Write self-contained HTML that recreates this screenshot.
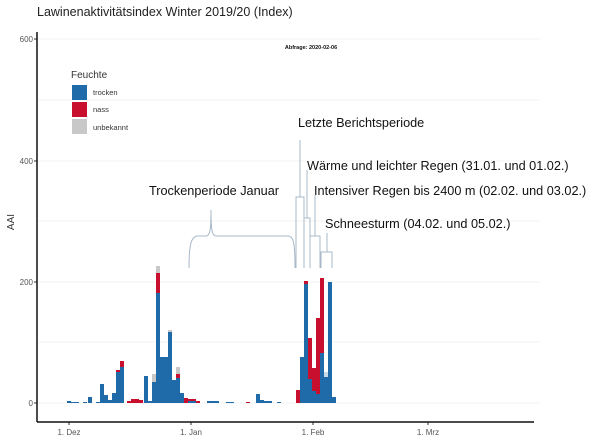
<!DOCTYPE html>
<html><head><meta charset="utf-8"><style>
html,body{margin:0;padding:0;background:#fff;}
svg{display:block;}
.t{font-family:"Liberation Sans",sans-serif;}
.c{font-family:"Liberation Sans",sans-serif;font-size:12.7px;fill:#111;}
</style></head><body>
<svg width="616" height="438" viewBox="0 0 616 438" xmlns="http://www.w3.org/2000/svg">
<rect width="616" height="438" fill="#fff"/>
<text x="37" y="16" class="t" font-size="12.5" fill="#222">Lawinenaktivitätsindex Winter 2019/20 (Index)</text>
<g stroke="#f3f3f3" stroke-width="1">
<line x1="38" x2="540" y1="39" y2="39"/><line x1="38" x2="540" y1="100" y2="100"/>
<line x1="38" x2="540" y1="161" y2="161"/><line x1="38" x2="540" y1="221" y2="221"/>
<line x1="38" x2="540" y1="282" y2="282"/><line x1="38" x2="540" y1="342" y2="342"/>
<line x1="38" x2="540" y1="403" y2="403"/>
</g>
<g class="t" font-size="8" fill="#555" text-anchor="end">
<text x="33" y="42">600</text><text x="33" y="164">400</text><text x="33" y="285">200</text><text x="33" y="406">0</text>
</g>
<g stroke="#333"><line x1="34" x2="37" y1="39" y2="39"/><line x1="34" x2="37" y1="161" y2="161"/><line x1="34" x2="37" y1="282" y2="282"/><line x1="34" x2="37" y1="403" y2="403"/>
<line x1="69" x2="69" y1="422" y2="425"/><line x1="191" x2="191" y1="422" y2="425"/><line x1="313" x2="313" y1="422" y2="425"/><line x1="428" x2="428" y1="422" y2="425"/></g>
<line x1="37" y1="32" x2="37" y2="422" stroke="#111" stroke-width="1.5"/>
<line x1="37" y1="422" x2="534" y2="422" stroke="#111" stroke-width="1.5"/>
<g class="t" font-size="8" fill="#555" text-anchor="middle">
<text x="69" y="435">1. Dez</text><text x="191" y="435">1. Jan</text><text x="313" y="435">1. Feb</text><text x="428" y="435">1. Mrz</text>
</g>
<text class="t" font-size="10" fill="#333" transform="translate(14,222) rotate(-90)" text-anchor="middle">AAI</text>
<text x="311" y="49" class="t" font-size="5.5" font-weight="bold" text-anchor="middle" fill="#111">Abfrage: 2020-02-06</text>
<text x="71" y="78" class="t" font-size="10" fill="#333">Feuchte</text>
<rect x="72" y="85" width="15" height="15" fill="#1f6aa8"/><rect x="72" y="102" width="15" height="15" fill="#c8102e"/><rect x="72" y="119" width="15" height="15" fill="#c8c8c8"/>
<g class="t" font-size="7.5" fill="#333"><text x="93" y="95">trocken</text><text x="93" y="112">nass</text><text x="93" y="130">unbekannt</text></g>
<g id="bars">
<rect x="67" y="401" width="4" height="2" fill="#1f6aa8"/>
<rect x="71" y="402" width="8" height="1" fill="#1f6aa8"/>
<rect x="83" y="402" width="4" height="1" fill="#1f6aa8"/>
<rect x="88" y="397" width="4" height="6" fill="#1f6aa8"/>
<rect x="96" y="402" width="4" height="1" fill="#1f6aa8"/>
<rect x="100" y="384" width="4" height="19" fill="#1f6aa8"/>
<rect x="104" y="395" width="4" height="8" fill="#1f6aa8"/>
<rect x="108" y="400" width="4" height="3" fill="#1f6aa8"/>
<rect x="112" y="393" width="4" height="10" fill="#1f6aa8"/>
<rect x="116" y="370" width="4" height="33" fill="#1f6aa8"/><rect x="116" y="370" width="4" height="2" fill="#c8102e"/>
<rect x="120" y="361" width="4" height="42" fill="#1f6aa8"/><rect x="120" y="361" width="4" height="6" fill="#c8102e"/>
<rect x="127" y="401" width="4" height="2" fill="#c8102e"/>
<rect x="131" y="399" width="8" height="4" fill="#c8102e"/>
<rect x="139" y="400" width="4" height="3" fill="#c8102e"/>
<rect x="144" y="376" width="4" height="27" fill="#1f6aa8"/>
<rect x="148" y="401" width="4" height="2" fill="#1f6aa8"/>
<rect x="152" y="382" width="4" height="21" fill="#1f6aa8"/><rect x="152" y="374" width="4" height="8" fill="#c8c8c8"/>
<rect x="156" y="293" width="4" height="110" fill="#1f6aa8"/><rect x="156" y="273" width="4" height="20" fill="#c8102e"/><rect x="156" y="266" width="4" height="7" fill="#c8c8c8"/>
<rect x="160" y="357" width="8" height="46" fill="#1f6aa8"/>
<rect x="168" y="332" width="4" height="71" fill="#1f6aa8"/><rect x="168" y="330" width="4" height="2" fill="#c8c8c8"/>
<rect x="172" y="380" width="4" height="23" fill="#1f6aa8"/>
<rect x="176" y="378" width="4" height="25" fill="#1f6aa8"/><rect x="176" y="374" width="4" height="4" fill="#c8102e"/><rect x="176" y="367" width="4" height="7" fill="#c8c8c8"/>
<rect x="180" y="393" width="4" height="10" fill="#1f6aa8"/>
<rect x="184" y="398" width="4" height="5" fill="#c8102e"/>
<rect x="188" y="399" width="8" height="4" fill="#1f6aa8"/><rect x="188" y="399" width="8" height="2" fill="#c8102e"/>
<rect x="196" y="401" width="4" height="2" fill="#c8102e"/>
<rect x="207" y="401" width="12" height="2" fill="#1f6aa8"/>
<rect x="226" y="402" width="8" height="1" fill="#1f6aa8"/>
<rect x="246" y="402" width="4" height="1" fill="#c8102e"/>
<rect x="256" y="394" width="4" height="9" fill="#1f6aa8"/>
<rect x="260" y="400" width="4" height="3" fill="#1f6aa8"/>
<rect x="264" y="401" width="8" height="2" fill="#1f6aa8"/>
<rect x="277" y="402" width="4" height="1" fill="#1f6aa8"/>
<rect x="296" y="390" width="4" height="13" fill="#c8102e"/>
<rect x="300" y="357" width="4" height="46" fill="#1f6aa8"/>
<rect x="304" y="283" width="4" height="120" fill="#1f6aa8"/><rect x="304" y="281" width="4" height="3" fill="#c8102e"/>
<rect x="308" y="338" width="4" height="41" fill="#c8102e"/><rect x="308" y="379" width="4" height="24" fill="#1f6aa8"/>
<rect x="312" y="368" width="4" height="23" fill="#c8102e"/><rect x="312" y="391" width="4" height="12" fill="#1f6aa8"/>
<rect x="316" y="318" width="4" height="76" fill="#c8102e"/><rect x="316" y="394" width="4" height="9" fill="#1f6aa8"/>
<rect x="320" y="278" width="4" height="75" fill="#c8102e"/><rect x="320" y="353" width="4" height="50" fill="#1f6aa8"/>
<rect x="324" y="377" width="4" height="26" fill="#1f6aa8"/><rect x="324" y="372" width="4" height="5" fill="#c8dbe8"/>
<rect x="328" y="282" width="4" height="121" fill="#1f6aa8"/>
<rect x="332" y="397" width="4" height="6" fill="#1f6aa8"/>
</g>
<g fill="none" stroke="#a8b8c8" stroke-width="1">
<path d="M189,268 C189,245 191,236 198,236 L206,236 C210,236 211,230 211,210 C211,230 212,236 216,236 L288,236 C294,236 295,245 295,268"/>
<path d="M296,268 V197 H304 V268 M300,197 V140"/>
<path d="M304,268 V218 H310 V268 M307,218 V170"/>
<path d="M310,268 V236 H320 V268 M315,236 V195"/>
<path d="M321,268 V252 H332 V268 M327,252 V233"/>
</g>
<text x="298" y="127" class="c">Letzte Berichtsperiode</text>
<text x="307" y="170" class="c">Wärme und leichter Regen (31.01. und 01.02.)</text>
<text x="314" y="195" class="c">Intensiver Regen bis 2400 m (02.02. und 03.02.)</text>
<text x="325" y="228" class="c">Schneesturm (04.02. und 05.02.)</text>
<text x="149" y="195" class="c">Trockenperiode Januar</text>
</svg>
</body></html>
